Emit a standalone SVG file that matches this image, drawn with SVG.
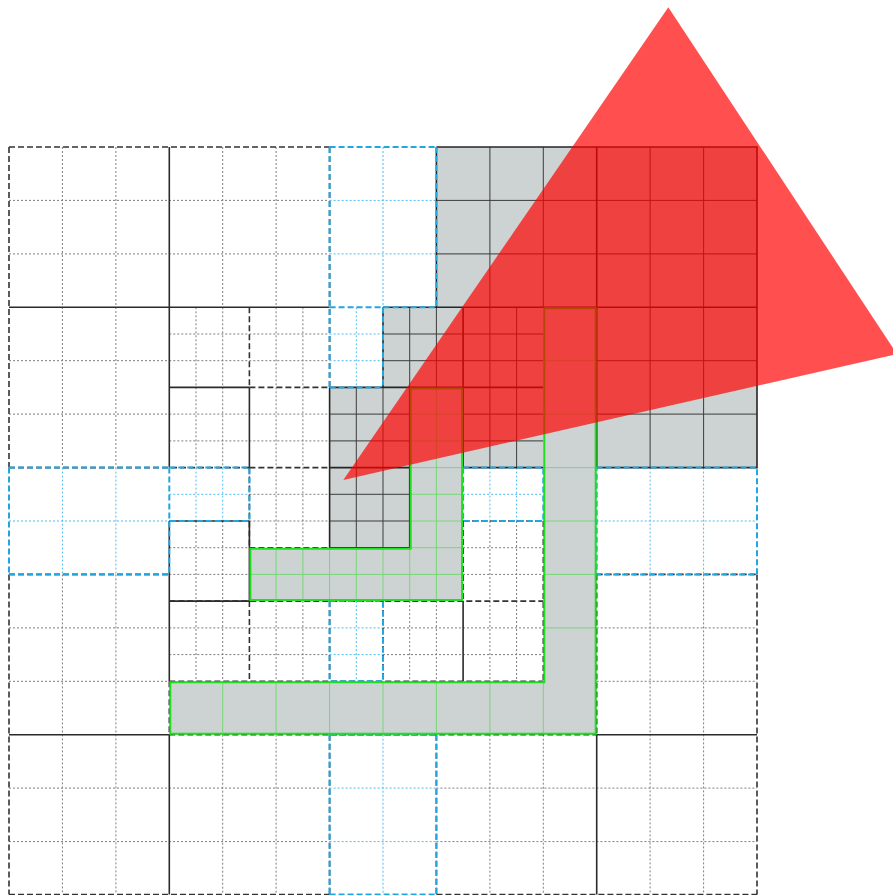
<svg xmlns="http://www.w3.org/2000/svg" width="893" height="895" viewBox="0 0 893 895">
<style>
path,polygon{fill:none}
.fill{fill:#cdd2d2;stroke:none}
.dot{stroke:#7d7d7d;stroke-width:1;stroke-dasharray:2 2}
.cdot{stroke:#4fbcee;stroke-width:1;stroke-dasharray:2 2}
.gl{stroke:#3c3c3c;stroke-width:1}
.lg{stroke:#78d878;stroke-width:1}
.gb{stroke:#262626;stroke-width:1.6}
.solid{stroke:#2b2b2b;stroke-width:1.6}
.dash{stroke:#333;stroke-width:1.6;stroke-dasharray:6 3}
.cdash{stroke:#22a6e0;stroke-width:2;stroke-dasharray:6 3}
.green{stroke:#1fe01f;stroke-width:2}
.red{fill:#ff0000;fill-opacity:.69;stroke:none}
</style>
<rect width="893" height="895" fill="#fff"/>
<g id="fills">
<path class="fill" d="M436.4 147H757V467.6H596.7V307.3H436.4Z"/>
<path class="fill" d="M383 307.3H596.7V734.7H169.3V681.3H543.3V467.6H463.1V601.1H249.4V547.7H329.6V387.4H383Z"/>
</g>
<g id="inner-lines">
<path class="dot" d="M62.4 147V467.6M115.9 147V467.6M62.4 574.4V894.5M115.9 574.4V894.5M222.7 147V307.3M276.1 147V307.3M9 200.4H329.6M9 253.9H329.6M9 360.7H169.3M9 414.1H169.3M9 627.9H169.3M9 681.3H169.3M9 788.1H329.6M9 841.6H329.6M222.7 734.7V894.5M276.1 734.7V894.5M436.4 788.1H757M436.4 841.6H757M489.9 734.7V894.5M543.3 734.7V894.5M650.1 574.4V894.5M703.6 574.4V894.5M596.7 627.9H757M596.7 681.3H757"/>
<path class="dot" d="M196 307.3V467.6M222.7 307.3V467.6M276.1 307.3V547.7M302.9 307.3V547.7M169.3 334H329.6M169.3 360.7H329.6M169.3 414.1H329.6M169.3 440.9H329.6M249.4 494.3H329.6M249.4 521H329.6M196 521V681.3M222.7 521V681.3M169.3 547.7H249.4M169.3 574.4H249.4M276.1 601.1V681.3M302.9 601.1V681.3M169.3 627.9H329.6M169.3 654.6H329.6M409.7 601.1V681.3M436.4 601.1V681.3M383 627.9H543.3M383 654.6H543.3M489.9 521V681.3M516.6 521V681.3M463.1 547.7H543.3M463.1 574.4H543.3"/>
<path class="cdot" d="M383 147V307.3M329.6 200.4H436.4M329.6 253.9H436.4M62.4 467.6V574.4M115.9 467.6V574.4M9 521H169.3M650.1 467.6V574.4M703.6 467.6V574.4M596.7 521H757M383 734.7V894.5M329.6 788.1H436.4M329.6 841.6H436.4M356.3 307.3V387.4M329.6 334H383M329.6 360.7H383M196 467.6V521M222.7 467.6V521M169.3 494.3H249.4M489.9 467.6V521M516.6 467.6V521M463.1 494.3H543.3M356.3 601.1V681.3M329.6 627.9H383M329.6 654.6H383"/>
<path class="gl" d="M489.9 147V307.3M543.3 147V307.3M650.1 147V467.6M703.6 147V467.6M436.4 200.4H757M436.4 253.9H757M596.7 360.7H757M596.7 414.1H757M409.7 307.3V387.4M436.4 307.3V387.4M489.9 307.3V467.6M516.6 307.3V467.6M383 334H543.3M383 360.7H543.3M356.3 387.4V547.7M383 387.4V547.7M329.6 414.1H409.7M329.6 440.9H409.7M329.6 494.3H409.7M329.6 521H409.7M463.1 414.1H543.3M463.1 440.9H543.3"/>
<path class="lg" d="M436.4 387.4V601.1M409.7 414.1H463.1M409.7 440.9H463.1M409.7 467.6H463.1M409.7 494.3H463.1M409.7 521H463.1M409.7 547.7H463.1M249.4 574.4H463.1M276.1 547.7V601.1M302.9 547.7V601.1M329.6 547.7V601.1M356.3 547.7V601.1M383 547.7V601.1M409.7 547.7V601.1"/>
<path class="lg" d="M543.3 360.7H596.7M543.3 414.1H596.7M543.3 467.6H596.7M543.3 521H596.7M543.3 574.4H596.7M543.3 627.9H596.7M222.7 681.3V734.7M276.1 681.3V734.7M329.6 681.3V734.7M383 681.3V734.7M436.4 681.3V734.7M489.9 681.3V734.7M543.3 681.3V734.7"/>
</g>
<g id="block-borders">
<path class="gb" d="M436.4 147H757V467.6H596.7M436.4 147V307.3M596.7 147V467.6M383 307.3H757M383 307.3V387.4M463.1 307.3V467.6M329.6 387.4H543.3M329.6 387.4V547.7H409.7V387.4M329.6 467.6H409.7M463.1 467.6H543.3"/>
<path class="dash" d="M9 147H329.6M9 147V467.6M9 574.4V894.5M9 894.5H329.6M436.4 894.5H757M757 574.4V894.5M329.6 147V387.4M249.4 307.3V387.4M249.4 387.4H329.6M249.4 467.6H329.6M9 467.6H249.4M249.4 467.6V547.7M249.4 547.7H329.6M169.3 601.1H543.3M249.4 601.1V681.3M329.6 601.1V681.3M383 601.1V681.3M169.3 681.3H543.3M543.3 521V681.3M463.1 521V601.1M463.1 521H543.3M169.3 734.7H596.7M329.6 734.7V894.5M436.4 734.7V894.5M9 574.4H169.3M596.7 574.4H757M596.7 574.4V734.7M169.3 681.3V734.7"/>
<path class="solid" d="M9 307.3H329.6M169.3 147V467.6M169.3 521V681.3M169.3 734.7V894.5M9 734.7H169.3M596.7 734.7H757M596.7 734.7V894.5M169.3 387.4H249.4M249.4 387.4V467.6M169.3 521H249.4M249.4 521V601.1M169.3 601.1H249.4M463.1 601.1V681.3"/>
<path class="cdash" d="M329.6 147H436.4M329.6 147V387.4M436.4 147V307.3M329.6 307.3H436.4M383 307.3V387.4M329.6 387.4H383M9 467.6H169.3M9 467.6V574.4M169.3 467.6V574.4M9 574.4H169.3M169.3 467.6H249.4V521H169.3M596.7 467.6H757V574.4H596.7ZM463.1 467.6H543.3V521H463.1ZM329.6 601.1H383V681.3H329.6ZM329.6 734.7H436.4M329.6 734.7V894.5M436.4 734.7V894.5M329.6 894.5H436.4"/>
</g>
<g id="halo-regions">
<path class="green" d="M410.7 388.4H462.1V600.1H250.4V548.7H410.7Z"/>
<path class="green" d="M544.3 308.3H595.7V733.7H170.3V682.3H544.3Z"/>
</g>
<g id="triangle">
<polygon class="red" points="668.3,7.3 897,354 343.3,480"/>
</g>
</svg>
